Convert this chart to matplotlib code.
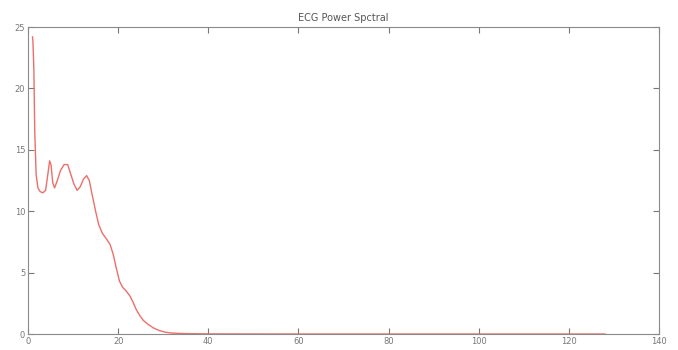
import numpy as np
import matplotlib
matplotlib.use('Agg')
import matplotlib.pyplot as plt

# values
freq = [1.0, 1.1, 1.3, 1.5, 1.8, 2.2, 2.7, 3.3, 3.9, 4.4, 4.8, 5.1, 5.5, 5.9,
        6.5, 7.2, 8.0, 8.8, 9.5, 10.2, 10.9, 11.6, 12.3, 13.0, 13.6, 14.2,
        15.0, 15.7, 16.5, 17.3, 18.2, 18.9, 19.5, 20.3, 21.0, 21.8, 22.6,
        23.3, 24.0, 24.8, 25.6, 26.6, 27.8, 29.0, 30.4, 31.8, 33.5, 35.0,
        40.0, 60.0, 80.0, 100.0, 128.0]
power = [24.2, 23.8, 21.5, 16.5, 13.0, 11.9, 11.6, 11.5, 11.7, 13.0, 14.1,
         13.8, 12.3, 11.9, 12.5, 13.3, 13.8, 13.8, 13.0, 12.2, 11.7, 12.0,
         12.6, 12.9, 12.5, 11.4, 10.0, 8.9, 8.2, 7.8, 7.3, 6.5, 5.5, 4.3,
         3.8, 3.5, 3.1, 2.6, 2.0, 1.5, 1.1, 0.8, 0.5, 0.3, 0.15, 0.08, 0.05,
         0.03, 0.01, 0.0, 0.0, 0.0, 0.0]
xticks = [0, 20, 40, 60, 80, 100, 120, 140]
yticks = [0, 5, 10, 15, 20, 25]

fig = plt.figure(figsize=(6.78, 3.5), dpi=100, facecolor='white')
ax = fig.add_axes([0.0413, 0.0457, 0.9307, 0.877])
ax.plot(freq, power, color='#ec6f6a', linewidth=1)
ax.set_xlim(0, 140)
ax.set_ylim(0, 25)
ax.set_xticks(xticks)
ax.set_yticks(yticks)
ax.tick_params(direction='in', top=True, right=True, length=4,
               labelsize=6, colors='#777777', pad=2)
for s in ax.spines.values():
    s.set_color('#8a8a8a')
ax.set_title('ECG Power Spctral', fontsize=7, color='#555555', pad=4)
plt.savefig('out.png', dpi=100)
